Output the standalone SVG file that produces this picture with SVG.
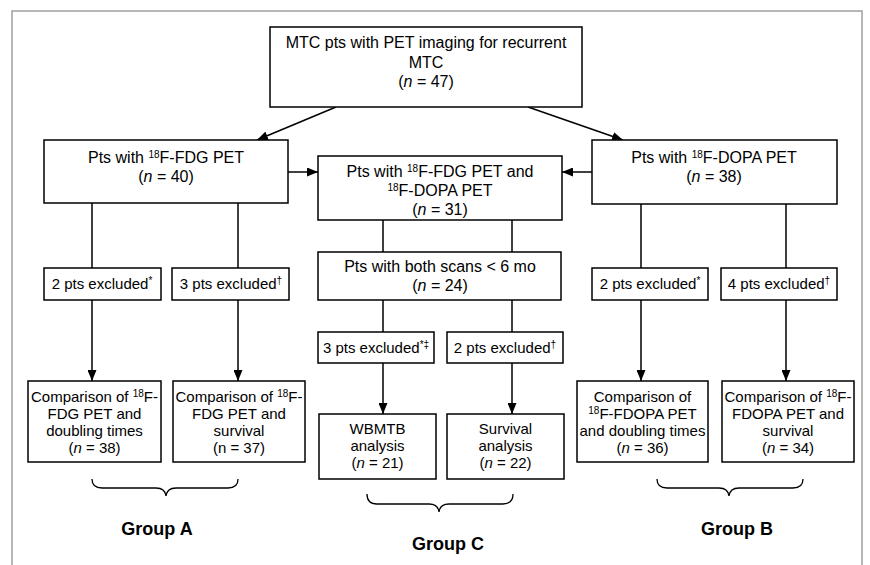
<svg xmlns="http://www.w3.org/2000/svg" width="870" height="565" viewBox="0 0 870 565">
<style>
.box{fill:#fff;stroke:#000;stroke-width:1.5}
.ln{stroke:#000;stroke-width:1.5;fill:none}
.br{stroke:#000;stroke-width:1.3;fill:none}
.frame{stroke:#a0a0a0;stroke-width:1.5;fill:none}
text{font-family:"Liberation Sans",Arial,sans-serif;fill:#000;text-anchor:middle}
.t16{font-size:16px}
.t15{font-size:15px}
.g{font-size:18px;font-weight:bold}
.sup{font-size:10px}
</style>
<defs>
<marker id="arr" markerUnits="userSpaceOnUse" markerWidth="11" markerHeight="9" refX="11" refY="4.5" orient="auto">
<path d="M0,0 L11,4.5 L0,9 z" fill="#000"/>
</marker>
</defs>
<rect x="0" y="0" width="870" height="565" fill="#fff"/>
<path class="frame" d="M12,565 V11 H862 V565"/>

<g id="connectors">
<line class="ln" x1="336" y1="107" x2="257" y2="140" marker-end="url(#arr)"/>
<line class="ln" x1="528" y1="107" x2="623" y2="140" marker-end="url(#arr)"/>
<line class="ln" x1="288" y1="172" x2="318" y2="172" marker-end="url(#arr)"/>
<line class="ln" x1="592" y1="172" x2="562" y2="172" marker-end="url(#arr)"/>
<line class="ln" x1="92" y1="203" x2="92" y2="268"/>
<line class="ln" x1="238" y1="203" x2="238" y2="268"/>
<line class="ln" x1="641" y1="204" x2="641" y2="268"/>
<line class="ln" x1="786" y1="204" x2="786" y2="268"/>
<line class="ln" x1="92" y1="300" x2="92" y2="381" marker-end="url(#arr)"/>
<line class="ln" x1="238" y1="300" x2="238" y2="381" marker-end="url(#arr)"/>
<line class="ln" x1="641" y1="300" x2="641" y2="381" marker-end="url(#arr)"/>
<line class="ln" x1="786" y1="300" x2="786" y2="381" marker-end="url(#arr)"/>
<line class="ln" x1="383" y1="220" x2="383" y2="252"/>
<line class="ln" x1="512" y1="220" x2="512" y2="252"/>
<line class="ln" x1="383" y1="300" x2="383" y2="332"/>
<line class="ln" x1="512" y1="300" x2="512" y2="332"/>
<line class="ln" x1="383" y1="363" x2="383" y2="414" marker-end="url(#arr)"/>
<line class="ln" x1="512" y1="363" x2="512" y2="414" marker-end="url(#arr)"/>
</g>

<g id="top">
<rect class="box" x="270" y="27" width="312" height="80"/>
<text class="t16" x="426" y="48">MTC pts with PET imaging for recurrent</text>
<text class="t16" x="426" y="68">MTC</text>
<text class="t16" x="426" y="87">(<tspan font-style="italic">n</tspan> = 47)</text>
</g>

<g id="fdg">
<rect class="box" x="44" y="140" width="244" height="63"/>
<text class="t16" x="166" y="163">Pts with <tspan class="sup" baseline-shift="super">18</tspan>F-FDG PET</text>
<text class="t16" x="166" y="182">(<tspan font-style="italic">n</tspan> = 40)</text>
</g>

<g id="both">
<rect class="box" x="318" y="156" width="244" height="64"/>
<text class="t16" x="440" y="177">Pts with <tspan class="sup" baseline-shift="super">18</tspan>F-FDG PET and</text>
<text class="t16" x="440" y="196"><tspan class="sup" baseline-shift="super">18</tspan>F-DOPA PET</text>
<text class="t16" x="440" y="215">(<tspan font-style="italic">n</tspan> = 31)</text>
</g>

<g id="dopa">
<rect class="box" x="592" y="140" width="245" height="64"/>
<text class="t16" x="714" y="163">Pts with <tspan class="sup" baseline-shift="super">18</tspan>F-DOPA PET</text>
<text class="t16" x="714" y="182">(<tspan font-style="italic">n</tspan> = 38)</text>
</g>

<g id="sixmo">
<rect class="box" x="318" y="252" width="243" height="48"/>
<text class="t16" x="440" y="272">Pts with both scans &lt; 6 mo</text>
<text class="t16" x="440" y="291">(<tspan font-style="italic">n</tspan> = 24)</text>
</g>

<g id="exA1">
<rect class="box" x="44" y="268" width="117" height="32"/>
<text class="t15" x="102" y="289">2 pts excluded<tspan class="sup" baseline-shift="super">*</tspan></text>
</g>
<g id="exA2">
<rect class="box" x="172" y="268" width="117" height="32"/>
<text class="t15" x="231" y="289">3 pts excluded<tspan class="sup" baseline-shift="super">†</tspan></text>
</g>
<g id="exB1">
<rect class="box" x="592" y="268" width="116" height="32"/>
<text class="t15" x="650" y="289">2 pts excluded<tspan class="sup" baseline-shift="super">*</tspan></text>
</g>
<g id="exB2">
<rect class="box" x="721" y="268" width="116" height="32"/>
<text class="t15" x="779" y="289">4 pts excluded<tspan class="sup" baseline-shift="super">†</tspan></text>
</g>
<g id="exC1">
<rect class="box" x="318" y="332" width="116" height="31"/>
<text class="t15" x="376" y="353">3 pts excluded<tspan class="sup" baseline-shift="super">*‡</tspan></text>
</g>
<g id="exC2">
<rect class="box" x="447" y="332" width="116" height="31"/>
<text class="t15" x="505" y="353">2 pts excluded<tspan class="sup" baseline-shift="super">†</tspan></text>
</g>

<g id="cmpA1">
<rect class="box" x="28" y="381" width="133" height="81"/>
<text class="t15" x="94.5" y="402">Comparison of <tspan class="sup" baseline-shift="super">18</tspan>F-</text>
<text class="t15" x="94.5" y="419">FDG PET and</text>
<text class="t15" x="94.5" y="436">doubling times</text>
<text class="t15" x="94.5" y="453">(<tspan font-style="italic">n</tspan> = 38)</text>
</g>
<g id="cmpA2">
<rect class="box" x="173" y="381" width="132" height="81"/>
<text class="t15" x="239" y="402">Comparison of <tspan class="sup" baseline-shift="super">18</tspan>F-</text>
<text class="t15" x="239" y="419">FDG PET and</text>
<text class="t15" x="239" y="436">survival</text>
<text class="t15" x="239" y="453">(n = 37)</text>
</g>
<g id="wbmtb">
<rect class="box" x="319" y="414" width="117" height="65"/>
<text class="t15" x="377.5" y="434">WBMTB</text>
<text class="t15" x="377.5" y="451">analysis</text>
<text class="t15" x="377.5" y="468">(<tspan font-style="italic">n</tspan> = 21)</text>
</g>
<g id="surv">
<rect class="box" x="447" y="414" width="117" height="65"/>
<text class="t15" x="505.5" y="434">Survival</text>
<text class="t15" x="505.5" y="451">analysis</text>
<text class="t15" x="505.5" y="468">(<tspan font-style="italic">n</tspan> = 22)</text>
</g>
<g id="cmpB1">
<rect class="box" x="577" y="381" width="131" height="81"/>
<text class="t15" x="642.5" y="402">Comparison of</text>
<text class="t15" x="642.5" y="419"><tspan class="sup" baseline-shift="super">18</tspan>F-FDOPA PET</text>
<text class="t15" x="642.5" y="436">and doubling times</text>
<text class="t15" x="642.5" y="453">(<tspan font-style="italic">n</tspan> = 36)</text>
</g>
<g id="cmpB2">
<rect class="box" x="722" y="381" width="132" height="81"/>
<text class="t15" x="788" y="402">Comparison of <tspan class="sup" baseline-shift="super">18</tspan>F-</text>
<text class="t15" x="788" y="419">FDOPA PET and</text>
<text class="t15" x="788" y="436">survival</text>
<text class="t15" x="788" y="453">(<tspan font-style="italic">n</tspan> = 34)</text>
</g>

<g id="groupA">
<path class="br" d="M92,479 Q92,488 102,488 L156,488 Q165,488 166,496 Q167,488 176,488 L228,488 Q238,488 238,479"/>
<text class="g" x="157" y="535">Group A</text>
</g>
<g id="groupC">
<path class="br" d="M367,494 Q367,504 377,504 L429,504 Q438,504 439,512 Q440,504 449,504 L503,504 Q513,504 513,494"/>
<text class="g" x="448" y="550">Group C</text>
</g>
<g id="groupB">
<path class="br" d="M657,479 Q657,488 667,488 L719,488 Q728,488 729,496 Q730,488 739,488 L793,488 Q803,488 803,479"/>
<text class="g" x="737" y="535">Group B</text>
</g>
</svg>
